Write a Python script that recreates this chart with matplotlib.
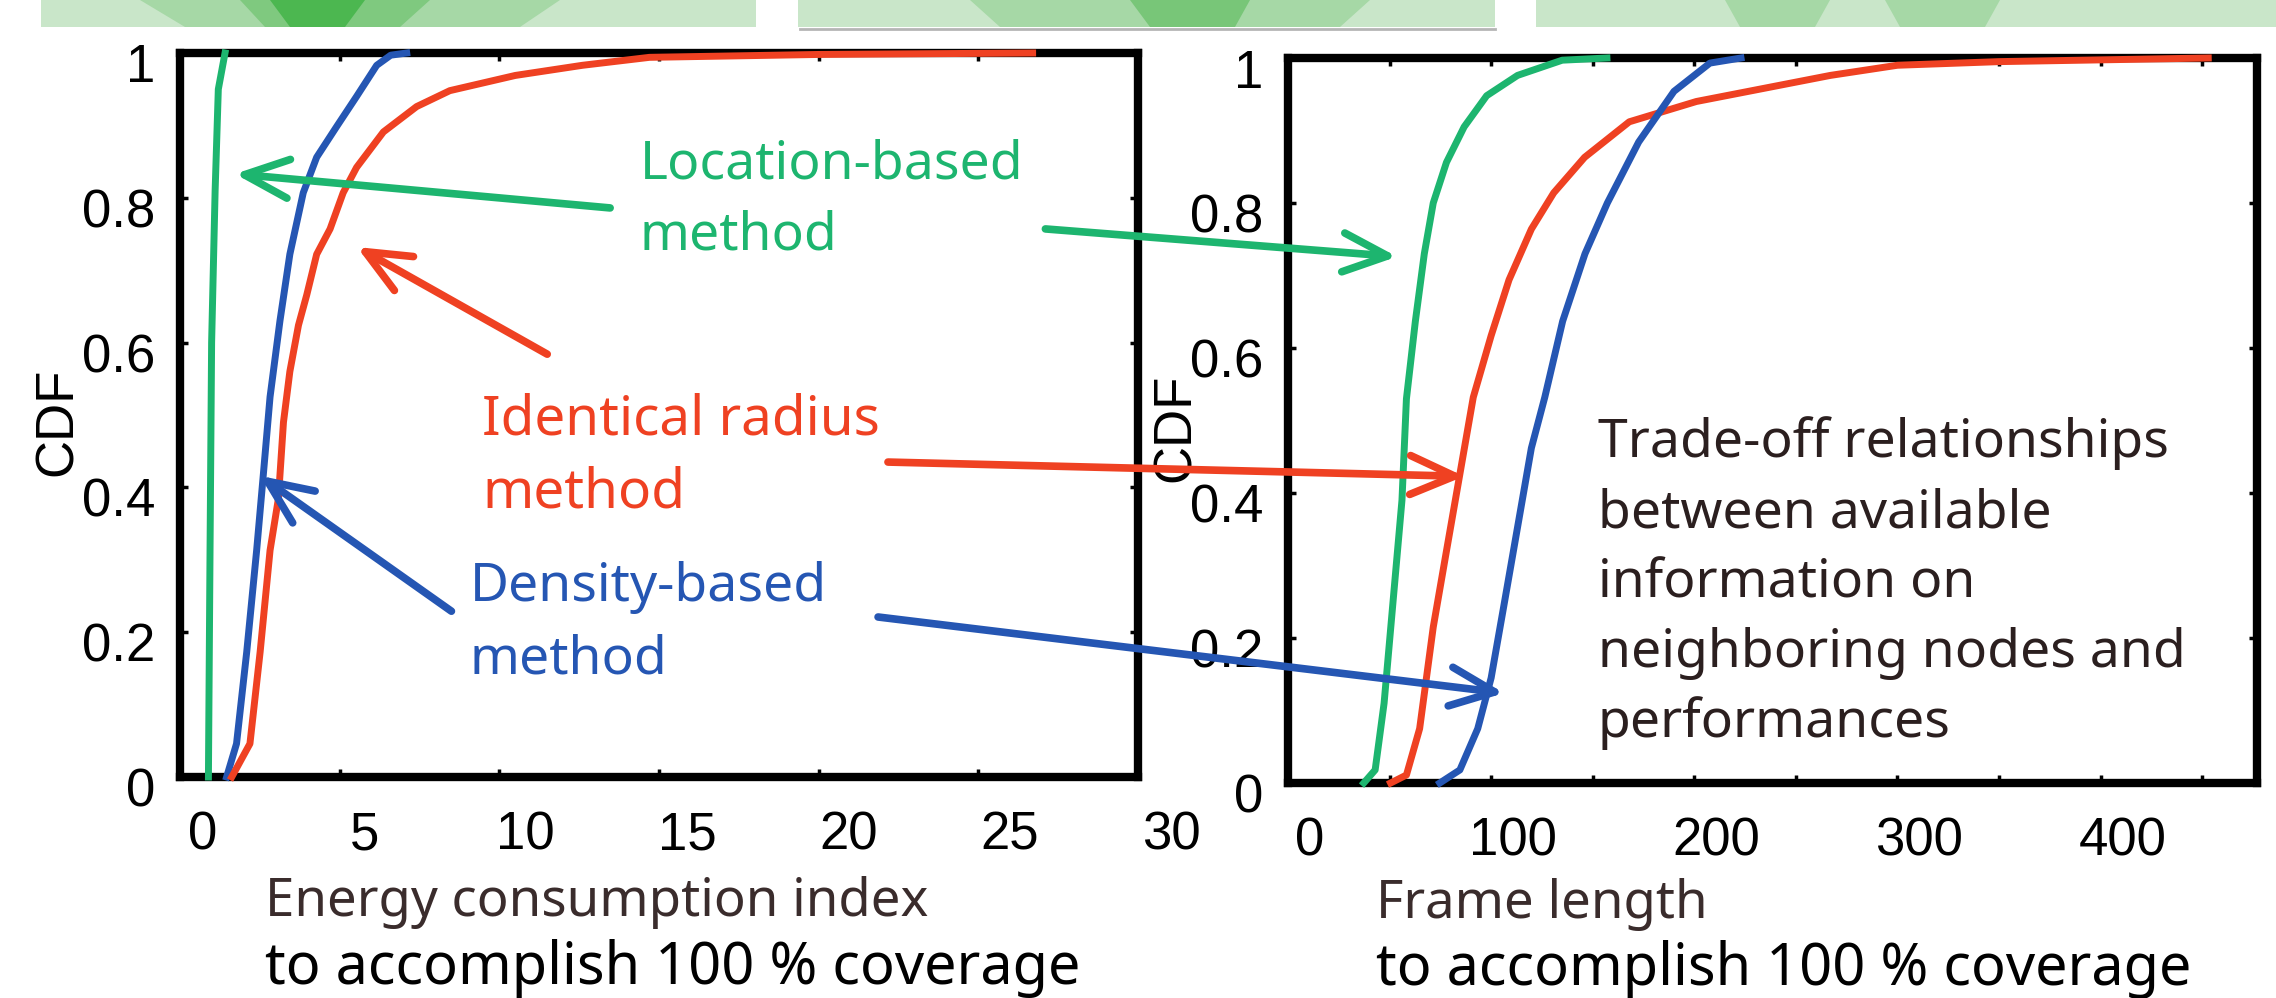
import numpy as np
import matplotlib.pyplot as plt
from matplotlib.patches import Rectangle, Polygon
from matplotlib.transforms import ScaledTranslation

W, H = 2276, 998
DPI = 100

VERDE = '#1db56f'
ROJO = '#ef4122'
AZUL = '#2556b3'
TEXTO = '#2b1f1f'

FUENTE_TXT = ['Noto Sans', 'DejaVu Sans']
FUENTE_NUM = ['Liberation Sans', 'DejaVu Sans']

# --- Datos: CDF del indice de energia ---
energia_verde_x = [0.89, 0.94, 0.99, 1.10, 1.20, 1.41]
energia_verde_y = [0.0, 0.31, 0.60, 0.81, 0.95, 1.0]

energia_azul_x = [1.46, 1.77, 2.09, 2.40, 2.61, 2.82, 3.13, 3.44, 3.86, 4.28,
                  4.90, 5.53, 6.16, 6.60, 7.10]
energia_azul_y = [0.0, 0.046, 0.173, 0.313, 0.418, 0.525, 0.63, 0.722, 0.807,
                  0.856, 0.898, 0.94, 0.983, 0.997, 1.0]

energia_rojo_x = [1.62, 2.19, 2.51, 2.82, 3.08, 3.24, 3.44, 3.71, 3.97, 4.28,
                  4.70, 5.11, 5.53, 6.37, 7.41, 8.45, 10.5, 12.6, 14.7, 20.0, 26.7]
energia_rojo_y = [0.0, 0.046, 0.173, 0.313, 0.384, 0.49, 0.56, 0.624, 0.666,
                  0.722, 0.757, 0.807, 0.842, 0.891, 0.926, 0.948, 0.969, 0.983,
                  0.994, 0.998, 1.0]

# --- Datos: CDF de la longitud de trama ---
trama_verde_x = [37.3, 42.9, 47.3, 51.7, 56.1, 58.3, 62.7, 67.1, 71.5, 78.0,
                 86.7, 97.8, 113, 135, 157]
trama_verde_y = [0.0, 0.018, 0.11, 0.25, 0.39, 0.53, 0.637, 0.73, 0.80, 0.856,
                 0.905, 0.948, 0.976, 0.997, 1.0]

trama_rojo_x = [50.5, 58.3, 64.8, 71.5, 78.0, 84.6, 91.2, 100, 108.8, 119.8,
                130.8, 146, 168, 201, 234, 267, 300, 350, 453]
trama_rojo_y = [0.0, 0.011, 0.075, 0.215, 0.32, 0.426, 0.532, 0.617, 0.694,
                0.764, 0.814, 0.863, 0.912, 0.94, 0.958, 0.976, 0.99, 0.995, 1.0]

trama_azul_x = [74.7, 84.6, 93.4, 100, 106.6, 113.2, 119.8, 126.4, 135.2, 146.2,
                157.2, 172.6, 190, 207.7, 223]
trama_azul_y = [0.0, 0.018, 0.075, 0.145, 0.25, 0.356, 0.462, 0.532, 0.637,
                0.73, 0.80, 0.884, 0.954, 0.993, 1.0]

# ejes
energia_ticks = [0, 5, 10, 15, 20, 25, 30]
trama_ticks = [0, 100, 200, 300, 400]
cdf_ticks = [0, 0.2, 0.4, 0.6, 0.8, 1.0]
cdf_etiquetas = ['0', '0.2', '0.4', '0.6', '0.8', '1']


def fig_xy(x, y):
    # pixel de la imagen -> fraccion de figura
    return x / W, 1 - y / H


def escribir(fig, x, y, lineas, color, size, salto):
    for i, linea in enumerate(lineas):
        fx, fy = fig_xy(x, y + i * salto)
        fig.text(fx, fy, linea, color=color, fontsize=size, family=FUENTE_TXT,
                 ha='left', va='baseline')


def preparar_ejes(ax, fig, xlim, ticks, menor, desplaz):
    ax.set_xlim(*xlim)
    ax.set_ylim(0, 1)
    ax.set_xticks(ticks)
    ax.set_xticklabels([str(t) for t in ticks])
    if menor:
        ax.set_xticks(menor, minor=True)
    ax.set_yticks(cdf_ticks)
    ax.set_yticklabels(cdf_etiquetas)
    for s in ax.spines.values():
        s.set_linewidth(6)
        s.set_zorder(2)
    ax.tick_params(which='both', direction='in', length=6, width=2.5,
                   top=True, right=True, labelsize=38, pad=18)
    ax.tick_params(axis='x', pad=24)
    # las etiquetas del original estan corridas a la derecha de las marcas
    for lbl, dx in zip(ax.get_xticklabels(), desplaz):
        lbl.set_family(FUENTE_NUM)
        lbl.set_transform(lbl.get_transform() + ScaledTranslation(dx / DPI, 0, fig.dpi_scale_trans))
    for lbl in ax.get_yticklabels():
        lbl.set_family(FUENTE_NUM)
        lbl.set_transform(lbl.get_transform() + ScaledTranslation(0, -0.10, fig.dpi_scale_trans))


fig = plt.figure(figsize=(W / DPI, H / DPI), dpi=DPI)

# franja verde superior (resto del diagrama de arriba)
cajas = [(41, 756), (798, 1495), (1536, 2276)]
for x0, x1 in cajas:
    a, b = fig_xy(x0, 27)
    c, d = fig_xy(x1, 0)
    fig.add_artist(Rectangle((a, b), c - a, d - b, transform=fig.transFigure,
                             facecolor='#c9e6c9', edgecolor='none', zorder=0))
formas = [((140, 560), (185, 520), '#a6d8a6'), ((240, 430), (265, 400), '#7fc97f'),
          ((270, 365), (290, 345), '#4cb750'), ((970, 1370), (1000, 1340), '#a6d8a6'),
          ((1130, 1250), (1150, 1235), '#78c678'), ((1725, 1830), (1740, 1815), '#a6d8a6'),
          ((1885, 2000), (1900, 1985), '#a6d8a6')]
for (t0, t1), (b0, b1), col in formas:
    pts = [fig_xy(t0, 0), fig_xy(t1, 0), fig_xy(b1, 27), fig_xy(b0, 27)]
    fig.add_artist(Polygon(pts, closed=True, transform=fig.transFigure,
                           facecolor=col, edgecolor='none', zorder=0.5))
a, b = fig_xy(800, 29)
c, _ = fig_xy(1495, 29)
fig.add_artist(plt.Line2D([a, c], [b, b], transform=fig.transFigure,
                          color='#b5b5b5', lw=2, zorder=0.6))

ax1 = fig.add_axes([180 / W, 1 - 777 / H, (1138 - 180) / W, (777 - 53) / H])
ax2 = fig.add_axes([1288 / W, 1 - 783 / H, (2257 - 1288) / W, (783 - 58) / H])

preparar_ejes(ax1, fig, (0, 30), energia_ticks, None,
              [23 + v / 3 for v in energia_ticks])
preparar_ejes(ax2, fig, (0, 477), trama_ticks, list(range(50, 477, 100)),
              [22] * len(trama_ticks))

lw = 5
ax1.plot(energia_verde_x, energia_verde_y, color=VERDE, lw=lw, zorder=3, clip_on=False)
ax1.plot(energia_azul_x, energia_azul_y, color=AZUL, lw=lw, zorder=3, clip_on=False)
ax1.plot(energia_rojo_x, energia_rojo_y, color=ROJO, lw=lw, zorder=3, clip_on=False)
ax2.plot(trama_verde_x, trama_verde_y, color=VERDE, lw=lw, zorder=3, clip_on=False)
ax2.plot(trama_rojo_x, trama_rojo_y, color=ROJO, lw=lw, zorder=3, clip_on=False)
ax2.plot(trama_azul_x, trama_azul_y, color=AZUL, lw=lw, zorder=3, clip_on=False)

ax1.set_ylabel('CDF', fontsize=38, family=FUENTE_NUM)
ax1.yaxis.set_label_coords(-0.101, 0.49)
ax2.set_ylabel('CDF', fontsize=38, family=FUENTE_NUM)
ax2.yaxis.set_label_coords(-0.09, 0.49)

# flechas
flecha = dict(arrowstyle='->,head_length=1.6,head_width=0.7', lw=5.5,
              shrinkA=0, shrinkB=0, mutation_scale=20)
ax1.annotate('', xy=(1.72, 0.833), xytext=(13.47, 0.786),
             arrowprops=dict(flecha, color=VERDE))
ax1.annotate('', xy=(5.54, 0.732), xytext=(11.5, 0.584),
             arrowprops=dict(flecha, color=ROJO))
ax1.annotate('', xy=(2.5, 0.416), xytext=(8.5, 0.229),
             arrowprops=dict(flecha, color=AZUL))
ax2.annotate('', xy=(53.7, 0.726), xycoords=ax2.transData,
             xytext=(27.1, 0.757), textcoords=ax1.transData,
             arrowprops=dict(flecha, color=VERDE), annotation_clip=False)
ax2.annotate('', xy=(86.7, 0.423), xycoords=ax2.transData,
             xytext=(22.17, 0.435), textcoords=ax1.transData,
             arrowprops=dict(flecha, color=ROJO), annotation_clip=False)
ax2.annotate('', xy=(106.4, 0.124), xycoords=ax2.transData,
             xytext=(21.86, 0.221), textcoords=ax1.transData,
             arrowprops=dict(flecha, color=AZUL), annotation_clip=False)

# textos
escribir(fig, 640, 178, ['Location-based', 'method'], VERDE, 38.5, 71)
escribir(fig, 482, 435, ['Identical radius', 'method'], ROJO, 39.5, 72)
escribir(fig, 470, 601, ['Density-based', 'method'], AZUL, 38.5, 73)
escribir(fig, 1598, 457, ['Trade-off relationships', 'between available',
                          'information on', 'neighboring nodes and',
                          'performances'], TEXTO, 38.5, 70)

escribir(fig, 265, 916, ['Energy consumption index'], '#3a2c2c', 38, 0)
escribir(fig, 265, 984, ['to accomplish 100 % coverage'], 'black', 41.5, 0)
escribir(fig, 1376, 918, ['Frame length'], '#3a2c2c', 38, 0)
escribir(fig, 1376, 985, ['to accomplish 100 % coverage'], 'black', 41.5, 0)

fig.savefig('out.png', dpi=DPI)
